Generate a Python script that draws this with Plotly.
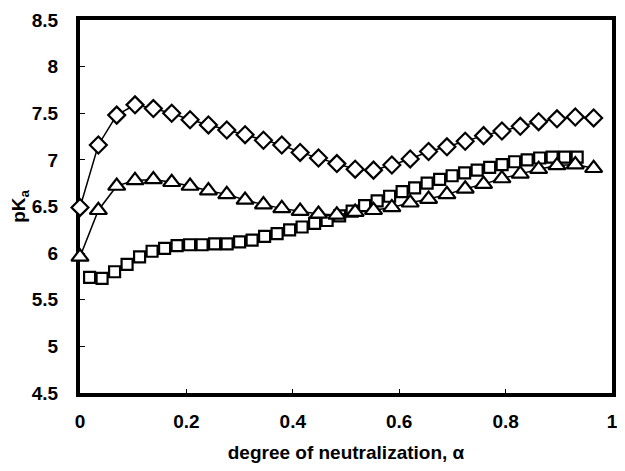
import plotly.graph_objects as go

# degree of neutralization (diamond / triangle series)
alpha_dt = [0.0, 0.0345, 0.069, 0.1034, 0.1379, 0.1724, 0.2069, 0.2414, 0.2759, 0.3103,
            0.3448, 0.3793, 0.4138, 0.4483, 0.4828, 0.5172, 0.5517, 0.5862, 0.6207, 0.6552,
            0.6897, 0.7241, 0.7586, 0.7931, 0.8276, 0.8621, 0.8966, 0.931, 0.9655]
pka_diamond = [6.49, 7.16, 7.48, 7.59, 7.55, 7.50, 7.43, 7.375, 7.32, 7.27,
               7.21, 7.16, 7.08, 7.02, 6.96, 6.90, 6.89, 6.945, 7.01, 7.09,
               7.14, 7.20, 7.26, 7.31, 7.36, 7.41, 7.44, 7.46, 7.45]
pka_triangle = [5.96, 6.46, 6.72, 6.78, 6.79, 6.76, 6.72, 6.67, 6.63, 6.57,
                6.52, 6.48, 6.45, 6.42, 6.41, 6.44, 6.46, 6.49, 6.54, 6.58,
                6.63, 6.69, 6.74, 6.80, 6.85, 6.90, 6.94, 6.95, 6.91]

# degree of neutralization (square series)
alpha_sq = [0.018, 0.0415, 0.065, 0.0885, 0.112, 0.1355, 0.159, 0.1825, 0.206, 0.2295,
            0.253, 0.2765, 0.3, 0.3235, 0.347, 0.3705, 0.394, 0.4175, 0.441, 0.4645,
            0.488, 0.5115, 0.535, 0.5585, 0.582, 0.6055, 0.629, 0.6525, 0.676, 0.6995,
            0.723, 0.7465, 0.77, 0.7935, 0.817, 0.8405, 0.864, 0.8875, 0.911, 0.9345]
pka_square = [5.74, 5.73, 5.80, 5.88, 5.96, 6.02, 6.05, 6.08, 6.09, 6.09,
              6.10, 6.10, 6.12, 6.14, 6.18, 6.21, 6.25, 6.28, 6.32, 6.35,
              6.40, 6.45, 6.51, 6.56, 6.61, 6.66, 6.70, 6.75, 6.79, 6.83,
              6.86, 6.89, 6.92, 6.95, 6.98, 7.00, 7.02, 7.03, 7.03, 7.03]

x_ticks = [0, 0.2, 0.4, 0.6, 0.8, 1]
x_tick_text = ["0", "0.2", "0.4", "0.6", "0.8", "1"]
y_ticks = [4.5, 5, 5.5, 6, 6.5, 7, 7.5, 8, 8.5]
y_tick_text = ["4.5", "5", "5.5", "6", "6.5", "7", "7.5", "8", "8.5"]

FONT = "Liberation Sans, Arial, sans-serif"

fig = go.Figure()
fig.add_trace(go.Scatter(
    x=alpha_sq, y=pka_square, mode="lines+markers", cliponaxis=False,
    line=dict(color="black", width=1.5),
    marker=dict(symbol="square", size=11, color="white", line=dict(color="black", width=2.2)),
))
fig.add_trace(go.Scatter(
    x=alpha_dt, y=pka_triangle, mode="lines+markers", cliponaxis=False,
    line=dict(color="black", width=1.5),
    marker=dict(symbol="triangle-up", size=15, color="white", line=dict(color="black", width=2.2)),
))
fig.add_trace(go.Scatter(
    x=alpha_dt, y=pka_diamond, mode="lines+markers", cliponaxis=False,
    line=dict(color="black", width=1.5),
    marker=dict(symbol="diamond", size=13, color="white", line=dict(color="black", width=2.2)),
))

# the page body adds an 8px margin; keep the figure inside the 625x471 window (no scrollbars)
fig.update_layout(
    width=609, height=455,
    margin=dict(l=72, r=5, t=12, b=70),
    paper_bgcolor="white", plot_bgcolor="white",
    showlegend=False,
    font=dict(family=FONT, size=19, color="black"),
)
fig.update_xaxes(
    range=[0, 1], tickvals=x_ticks, ticktext=x_tick_text,
    showgrid=False, zeroline=False, automargin=False,
    showline=True, linecolor="black", linewidth=4, mirror=True,
    ticks="inside", ticklen=4, tickcolor="black", tickwidth=1,
    ticklabelstandoff=8, ticklabeloverflow="allow",
    tickfont=dict(family=FONT, size=19, color="black", weight="bold"),
    title=dict(text="<b>degree of neutralization, α</b>", font=dict(family=FONT, size=19), standoff=17),
    layer="below traces",
)
fig.update_yaxes(
    range=[4.5, 8.5], tickvals=y_ticks, ticktext=y_tick_text,
    showgrid=False, zeroline=False, automargin=False,
    showline=True, linecolor="black", linewidth=4, mirror=True,
    ticks="inside", ticklen=5, tickcolor="black", tickwidth=1,
    ticklabelstandoff=14, ticklabeloverflow="allow",
    tickfont=dict(family=FONT, size=19, color="black", weight="bold"),
    title=dict(text="<b>pK<sub>a</sub></b>", font=dict(family=FONT, size=19), standoff=6),
    layer="below traces",
)

fig.write_html("out.html")
